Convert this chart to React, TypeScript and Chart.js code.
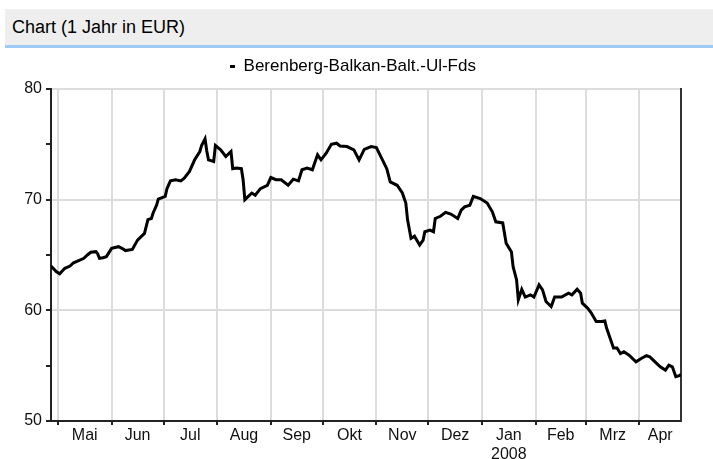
import React, { useEffect, useRef } from 'react';
import { Chart, registerables } from 'chart.js';

Chart.register(...registerables);

const titleText = 'Chart (1 Jahr in EUR)';
const seriesLabel = 'Berenberg-Balkan-Balt.-Ul-Fds';

const dates = [
  '2007-04-27', '2007-04-30', '2007-05-02', '2007-05-05', '2007-05-08', '2007-05-10', '2007-05-13', '2007-05-16',
  '2007-05-18', '2007-05-20', '2007-05-23', '2007-05-24', '2007-05-25', '2007-05-27', '2007-05-29', '2007-06-01',
  '2007-06-05', '2007-06-07', '2007-06-09', '2007-06-13', '2007-06-16', '2007-06-20', '2007-06-22', '2007-06-24',
  '2007-06-25', '2007-06-27', '2007-06-28', '2007-07-02', '2007-07-03', '2007-07-05', '2007-07-08', '2007-07-11',
  '2007-07-13', '2007-07-16', '2007-07-19', '2007-07-22', '2007-07-23', '2007-07-25', '2007-07-26', '2007-07-27',
  '2007-07-30', '2007-07-31', '2007-08-03', '2007-08-06', '2007-08-09', '2007-08-10', '2007-08-12', '2007-08-15',
  '2007-08-16', '2007-08-17', '2007-08-19', '2007-08-21', '2007-08-23', '2007-08-26', '2007-08-30', '2007-09-01',
  '2007-09-04', '2007-09-07', '2007-09-11', '2007-09-14', '2007-09-17', '2007-09-19', '2007-09-22', '2007-09-25',
  '2007-09-28', '2007-09-30', '2007-10-03', '2007-10-06', '2007-10-09', '2007-10-11', '2007-10-15', '2007-10-19',
  '2007-10-22', '2007-10-25', '2007-10-29', '2007-11-01', '2007-11-04', '2007-11-07', '2007-11-09', '2007-11-13',
  '2007-11-16', '2007-11-18', '2007-11-19', '2007-11-21', '2007-11-23', '2007-11-26', '2007-11-28', '2007-11-29',
  '2007-12-02', '2007-12-04', '2007-12-05', '2007-12-08', '2007-12-11', '2007-12-14', '2007-12-18', '2007-12-20',
  '2007-12-22', '2007-12-25', '2007-12-27', '2007-12-31', '2008-01-04', '2008-01-07', '2008-01-09', '2008-01-13',
  '2008-01-15', '2008-01-18', '2008-01-19', '2008-01-21', '2008-01-22', '2008-01-24', '2008-01-26', '2008-01-29',
  '2008-01-31', '2008-02-03', '2008-02-05', '2008-02-07', '2008-02-10', '2008-02-12', '2008-02-16', '2008-02-20',
  '2008-02-22', '2008-02-25', '2008-02-27', '2008-02-28', '2008-03-02', '2008-03-04', '2008-03-07', '2008-03-10',
  '2008-03-12', '2008-03-13', '2008-03-15', '2008-03-17', '2008-03-19', '2008-03-21', '2008-03-23', '2008-03-26',
  '2008-03-30', '2008-04-02', '2008-04-05', '2008-04-07', '2008-04-10', '2008-04-13', '2008-04-16', '2008-04-18',
  '2008-04-20', '2008-04-22', '2008-04-24', '2008-04-25',
];

const values = [
  64.0, 63.5, 63.3, 63.8, 64.0, 64.3, 64.5, 64.7,
  65.0, 65.25, 65.3, 65.1, 64.7, 64.75, 64.85, 65.6,
  65.75, 65.6, 65.4, 65.5, 66.35, 66.95, 68.2, 68.3,
  68.8, 69.5, 70.05, 70.3, 71.0, 71.7, 71.8, 71.7,
  71.95, 72.55, 73.6, 74.35, 74.9, 75.5, 74.4, 73.6,
  73.45, 74.9, 74.5, 73.9, 74.35, 72.8, 72.85, 72.8,
  71.8, 70.0, 70.3, 70.6, 70.4, 71.0, 71.3, 72.0,
  71.8, 71.8, 71.3, 71.85, 71.7, 72.7, 72.85, 72.7,
  74.05, 73.6, 74.2, 75.0, 75.1, 74.85, 74.8, 74.5,
  73.6, 74.55, 74.8, 74.7, 73.75, 72.8, 71.6, 71.3,
  70.6, 69.7, 68.2, 66.5, 66.7, 65.9, 66.35, 67.1,
  67.25, 67.1, 68.3, 68.5, 68.85, 68.7, 68.3, 69.05,
  69.35, 69.5, 70.3, 70.1, 69.7, 68.9, 68.0, 67.9,
  66.05, 65.3, 63.95, 62.75, 60.95, 61.9, 61.2, 61.4,
  61.2, 62.3, 61.85, 60.8, 60.35, 61.2, 61.2, 61.55,
  61.4, 61.9, 61.55, 60.65, 60.2, 59.8, 59.0, 59.0,
  59.05, 58.4, 57.5, 56.6, 56.6, 56.1, 56.25, 55.95,
  55.35, 55.65, 55.9, 55.8, 55.35, 54.9, 54.6, 55.05,
  54.9, 54.0, 54.1, 54.2,
];

const monthStarts = [
  '2007-05-01', '2007-06-01', '2007-07-01', '2007-08-01', '2007-09-01', '2007-10-01',
  '2007-11-01', '2007-12-01', '2008-01-01', '2008-02-01', '2008-03-01', '2008-04-01',
];
const monthLabels = ['Mai', 'Jun', 'Jul', 'Aug', 'Sep', 'Okt', 'Nov', 'Dez', 'Jan', 'Feb', 'Mrz', 'Apr'];
const yearLabel = '2008';
const yearLabelMonth = 'Jan';
const axisStart = '2007-04-27';
const axisEnd = '2008-04-25';

const yMin = 50;
const yMax = 80;
const yStep = 5;
const yLabelEvery = 10;

const dayNum = (s: string) => {
  const [y, m, d] = s.split('-').map(Number);
  return Math.round(Date.UTC(y, m - 1, d) / 86400000);
};

const FONT = "'Liberation Sans', Arial, Helvetica, sans-serif";

export default function App() {
  const ref = useRef<HTMLCanvasElement | null>(null);

  useEffect(() => {
    if (!ref.current) return;
    const base = dayNum('2007-05-01');
    const xMin = dayNum(axisStart) - base;
    const xMax = dayNum(axisEnd) - base;
    const gridVals = monthStarts.map((s) => dayNum(s) - base);
    const labelVals = gridVals.map((v, i) => (i < gridVals.length - 1 ? (v + gridVals[i + 1]) / 2 : (v + xMax) / 2));
    const labelMap = new Map<number, string | string[]>();
    labelVals.forEach((v, i) => {
      labelMap.set(v, monthLabels[i] === yearLabelMonth ? [monthLabels[i], yearLabel] : monthLabels[i]);
    });
    const gridSet = new Set(gridVals);
    const allTicks = [...gridVals, ...labelVals].sort((a, b) => a - b);

    const points = dates.map((d, i) => ({ x: dayNum(d) - base, y: values[i] }));

    const chart = new Chart(ref.current, {
      type: 'line',
      data: {
        datasets: [
          {
            label: seriesLabel,
            data: points,
            borderColor: '#000',
            backgroundColor: '#000',
            borderWidth: 3,
            pointRadius: 0,
            tension: 0,
            fill: false,
            xAxisID: 'x',
            yAxisID: 'y',
          },
        ],
      },
      options: {
        responsive: false,
        animation: false,
        layout: { padding: { top: 0, right: 7, left: 0, bottom: 0 } },
        plugins: {
          tooltip: { enabled: false },
          legend: {
            display: true,
            position: 'top',
            labels: {
              boxWidth: 5,
              boxHeight: 3,
              padding: 10,
              color: '#111',
              font: { family: FONT, size: 17 },
              generateLabels: () => [
                {
                  text: seriesLabel,
                  fillStyle: '#000',
                  strokeStyle: '#000',
                  lineWidth: 0,
                  hidden: false,
                  datasetIndex: 0,
                } as any,
              ],
            },
          },
        },
        scales: {
          x: {
            type: 'linear',
            position: 'bottom',
            min: xMin,
            max: xMax,
            afterBuildTicks: (scale: any) => {
              scale.ticks = allTicks.map((v) => ({ value: v }));
            },
            afterFit: (scale: any) => {
              scale.height = 57;
            },
            ticks: {
              autoSkip: false,
              maxRotation: 0,
              minRotation: 0,
              padding: 1,
              color: '#111',
              font: { family: FONT, size: 16, lineHeight: 1.2 },
              callback: (value: any) => labelMap.get(Number(value)) ?? '',
            },
            grid: {
              color: (ctx: any) => (gridSet.has(ctx.tick?.value) ? '#dcdcdc' : 'rgba(0,0,0,0)'),
              tickColor: (ctx: any) => (gridSet.has(ctx.tick?.value) ? '#222' : 'rgba(0,0,0,0)'),
              lineWidth: 2,
              tickLength: 4,
              tickWidth: 2,
            },
            border: { display: true, color: '#222', width: 2 },
          },
          xTop: {
            type: 'linear',
            position: 'top',
            display: true,
            min: 0,
            max: 1,
            afterFit: (scale: any) => {
              scale.height = 4;
            },
            ticks: { display: false },
            grid: { display: false, drawTicks: false },
            border: { display: false },
          },
          y: {
            type: 'linear',
            position: 'left',
            min: yMin,
            max: yMax,
            afterFit: (scale: any) => {
              scale.width = 51;
            },
            ticks: {
              stepSize: yStep,
              padding: 4,
              color: '#111',
              font: { family: FONT, size: 16 },
              callback: (value: any) => (Number(value) % yLabelEvery === 0 ? String(value) : ''),
            },
            grid: {
              color: (ctx: any) => (ctx.tick && ctx.tick.value % yLabelEvery === 0 ? '#dcdcdc' : 'rgba(0,0,0,0)'),
              tickColor: '#222',
              lineWidth: 2,
              tickLength: 5,
              tickWidth: 2,
            },
            border: { display: true, color: '#222', width: 2 },
          },
          y2: {
            type: 'linear',
            position: 'right',
            display: true,
            min: yMin,
            max: yMax,
            afterFit: (scale: any) => {
              scale.width = 25;
            },
            ticks: { display: false },
            grid: { display: false, drawTicks: false },
            border: { display: true, color: '#333', width: 2 },
          },
        },
      } as any,
    });
    return () => chart.destroy();
  }, []);

  return (
    <div style={{ position: 'fixed', left: 0, top: 0, width: 713, height: 459, overflow: 'hidden', background: '#fff' }}>
      <div
        style={{
          position: 'absolute',
          left: 5,
          top: 9,
          right: 0,
          height: 36,
          background: '#eeeeee',
          borderBottom: '3px solid #9ecbf5',
          fontFamily: FONT,
          fontSize: 18,
          lineHeight: '36px',
          paddingLeft: 7,
          color: '#000',
          whiteSpace: 'nowrap',
        }}
      >
        {titleText}
      </div>
      <canvas ref={ref} width={713} height={430} style={{ position: 'absolute', left: 0, top: 48, display: 'block' }} />
    </div>
  );
}
